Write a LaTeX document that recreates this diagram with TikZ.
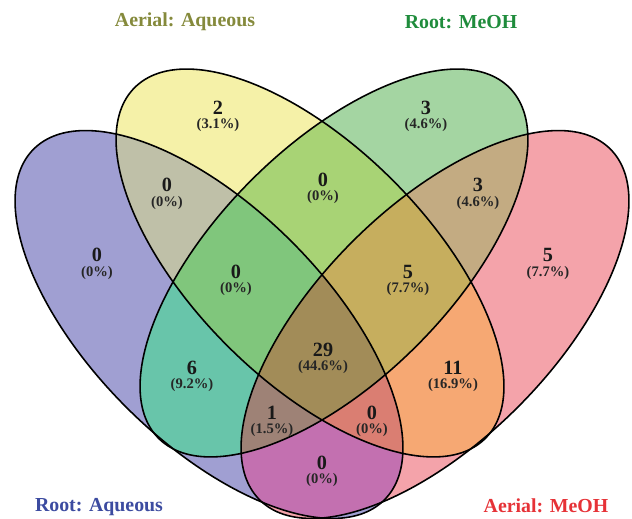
\documentclass[tikz,border=0pt]{standalone}
\usepackage{fontspec}
\setmainfont{Liberation Serif}
\usepackage{xcolor}
\usepackage{tikz}

% set colours
\definecolor{labA}{HTML}{3C4BA0}
\definecolor{labB}{HTML}{858A3C}
\definecolor{labC}{HTML}{1F8C3C}
\definecolor{labD}{HTML}{E63237}
% region colours
\definecolor{rA}{HTML}{A09FD2}
\definecolor{rB}{HTML}{F5F1A8}
\definecolor{rC}{HTML}{A4D5A2}
\definecolor{rD}{HTML}{F4A3AA}
\definecolor{rAB}{HTML}{BFC0A8}
\definecolor{rAC}{HTML}{68C5AA}
\definecolor{rAD}{HTML}{C370B0}
\definecolor{rBC}{HTML}{A8D375}
\definecolor{rBD}{HTML}{F6A873}
\definecolor{rCD}{HTML}{C3AB82}
\definecolor{rABC}{HTML}{80C67C}
\definecolor{rABD}{HTML}{DA7E72}
\definecolor{rACD}{HTML}{9E8276}
\definecolor{rBCD}{HTML}{C6AE5E}
\definecolor{rABCD}{HTML}{A28C58}

% the four ellipses
\def\elA{(209,194.5) circle[x radius=248,y radius=117,rotate=-45]}
\def\elB{(310,256) circle[x radius=248,y radius=117,rotate=-45]}
\def\elC{(334,256) circle[x radius=248,y radius=117,rotate=45]}
\def\elD{(435,194.5) circle[x radius=248,y radius=117,rotate=45]}

\begin{document}
\begin{tikzpicture}[x=0.02cm,y=0.02cm,
  cnt/.style={font=\fontsize{11.5}{12}\selectfont\bfseries,inner sep=0pt,text=black!90},
  pct/.style={font=\fontsize{8.3}{10}\selectfont\bfseries,inner sep=0pt,text=black!85},
  setlab/.style={font=\fontsize{11.3}{13}\selectfont\bfseries,inner sep=0pt},
  outline/.style={draw=black,line width=0.9pt}]

  \useasboundingbox (0,0) rectangle (632,519);

  % --- single sets ---
  \fill[rA] \elA; \fill[rB] \elB; \fill[rC] \elC; \fill[rD] \elD;

  % --- pairs ---
  \begin{scope}\clip \elA; \fill[rAB] \elB; \end{scope}
  \begin{scope}\clip \elA; \fill[rAC] \elC; \end{scope}
  \begin{scope}\clip \elA; \fill[rAD] \elD; \end{scope}
  \begin{scope}\clip \elB; \fill[rBC] \elC; \end{scope}
  \begin{scope}\clip \elB; \fill[rBD] \elD; \end{scope}
  \begin{scope}\clip \elC; \fill[rCD] \elD; \end{scope}

  % --- triples ---
  \begin{scope}\clip \elA; \clip \elB; \fill[rABC] \elC; \end{scope}
  \begin{scope}\clip \elA; \clip \elB; \fill[rABD] \elD; \end{scope}
  \begin{scope}\clip \elA; \clip \elC; \fill[rACD] \elD; \end{scope}
  \begin{scope}\clip \elB; \clip \elC; \fill[rBCD] \elD; \end{scope}

  % --- all four ---
  \begin{scope}\clip \elA; \clip \elB; \clip \elC; \fill[rABCD] \elD; \end{scope}

  % outlines
  \draw[outline] \elA; \draw[outline] \elB; \draw[outline] \elC; \draw[outline] \elD;

  % set labels
  \node[setlab,text=labB] (labB) at (185,497) {Aerial: Aqueous};
  \node[setlab,text=labC] (labC) at (461,497) {Root: MeOH};
  \node[setlab,text=labA] (labA) at (99,12) {Root: Aqueous};
  \node[setlab,text=labD] (labD) at (546,13) {Aerial: MeOH};

  % counts and percentages
  \node[cnt] (nA) at (97,264) {0}; \node[pct] (pA) at (97,246) {(0\%)};
  \node[cnt] (nB) at (218,411) {2}; \node[pct] (pB) at (218,394) {(3.1\%)};
  \node[cnt] (nC) at (426,411) {3}; \node[pct] (pC) at (426,394) {(4.6\%)};
  \node[cnt] (nD) at (548,264) {5}; \node[pct] (pD) at (548,246) {(7.7\%)};
  \node[cnt] (nAB) at (167,334) {0}; \node[pct] (pAB) at (167,316) {(0\%)};
  \node[cnt] (nBC) at (323,339) {0}; \node[pct] (pBC) at (323,322) {(0\%)};
  \node[cnt] (nCD) at (478,334) {3}; \node[pct] (pCD) at (478,316) {(4.6\%)};
  \node[cnt] (nABC) at (236,247) {0}; \node[pct] (pABC) at (236,230) {(0\%)};
  \node[cnt] (nBCD) at (408,247) {5}; \node[pct] (pBCD) at (408,230) {(7.7\%)};
  \node[cnt] (nAC) at (192,151) {6}; \node[pct] (pAC) at (192,134) {(9.2\%)};
  \node[cnt] (nBD) at (453,151) {11}; \node[pct] (pBD) at (453,134) {(16.9\%)};
  \node[cnt] (nABCD) at (323,169) {29}; \node[pct] (pABCD) at (323,152) {(44.6\%)};
  \node[cnt] (nACD) at (272,106) {1}; \node[pct] (pACD) at (272,89) {(1.5\%)};
  \node[cnt] (nABD) at (372,106) {0}; \node[pct] (pABD) at (372,89) {(0\%)};
  \node[cnt] (nAD) at (322,56) {0}; \node[pct] (pAD) at (322,39) {(0\%)};
\end{tikzpicture}
\end{document}
